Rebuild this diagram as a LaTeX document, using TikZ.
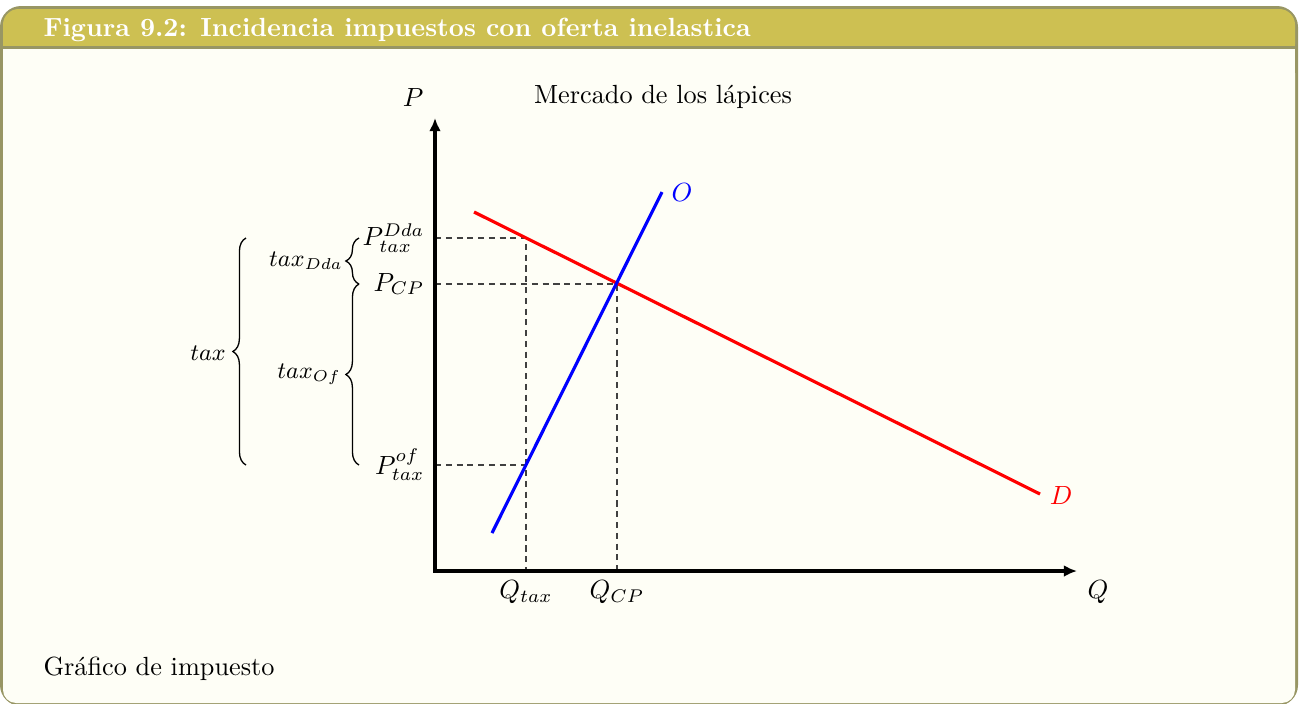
\documentclass[tikz,border=0pt]{standalone}
\usetikzlibrary{arrows.meta,decorations.pathreplacing}
\definecolor{frameC}{RGB}{152,150,100}
\definecolor{titleC}{RGB}{205,192,82}
\definecolor{bgC}{RGB}{254,254,246}
\tikzset{
  axis/.style={line width=1.2pt,{Latex[length=5pt,width=4.5pt]}-{Latex[length=5pt,width=4.5pt]}},
  guide/.style={dash pattern=on 2.3pt off 1.8pt,line width=0.4pt,black!75},
  curveS/.style={blue,line width=1.2pt},
  curveD/.style={red,line width=1.2pt},
  bracestyle/.style={decorate,decoration={brace,amplitude=5pt},line width=0.5pt},
  lbl/.style={inner sep=1pt},
  plbl/.style={inner sep=0pt,anchor=east}
}
\begin{document}
\begin{tikzpicture}[x=0.3807pt,y=-0.3807pt]
\useasboundingbox (0,0) rectangle (1299,703);
% frame
\fill[frameC,rounded corners=8] (0,6) rectangle (1298,706);
\fill[titleC,rounded corners=6] (3,9) rectangle (1295,60);
\fill[frameC] (3,46) rectangle (1295,49);
\fill[bgC] (3,49) rectangle (1295,690);
\fill[bgC,rounded corners=5] (3,60) rectangle (1295,703);
\node[anchor=base west,text=white,font=\bfseries,inner sep=0] (title) at (43,36) {Figura 9.2: Incidencia impuestos con oferta inelastica};
\node[anchor=base west,inner sep=0] (caption) at (43,675) {Gr\'afico de impuesto};
% coordinates
\coordinate (O) at (435,571);
\coordinate (ytip) at (435,118);
\coordinate (xtip) at (1077,571);
\coordinate (s1) at (492,533);
\coordinate (s2) at (662,192);
\coordinate (d1) at (474,212);
\coordinate (d2) at (1040,494);
\coordinate (A) at (526,238);
\coordinate (E) at (617,284);
\coordinate (B) at (526,465);
\coordinate (yA) at (435,238);
\coordinate (yE) at (435,284);
\coordinate (yB) at (435,465);
\coordinate (xA) at (526,571);
\coordinate (xE) at (617,571);
% guides
\draw[guide] (yA) -- (A) -- (xA);
\draw[guide] (yE) -- (E) -- (xE);
\draw[guide] (yB) -- (B);
% curves
\draw[curveD] (d1) -- (d2);
\draw[curveS] (s1) -- (s2);
% axes
\draw[axis] (ytip) -- (O) -- (xtip);
% labels
\node[lbl] (Plab) at (413,98) {$P$};
\node[lbl] (Qlab) at (1098,592) {$Q$};
\node[lbl] (market) at (663,97) {Mercado de los l\'apices};
\node[lbl,blue] (Olab) at (682,193) {$O$};
\node[lbl,red] (Dlab) at (1061,496) {$D$};
\node[plbl] (PD) at (425,238) {$P^{Dda}_{tax}$};
\node[plbl] (PCP) at (425,284) {$P_{CP}$};
\node[plbl] (Pof) at (425,465) {$P^{of}_{tax}$};
\node[lbl] (Qtax) at (526,592) {$Q_{tax}$};
\node[lbl] (QCP) at (617,592) {$Q_{CP}$};
% braces
\coordinate (b1a) at (359,284);
\coordinate (b1b) at (359,238);
\coordinate (b2a) at (359,465);
\coordinate (b2b) at (359,284);
\coordinate (b3a) at (246,465);
\coordinate (b3b) at (246,238);
\draw[bracestyle] (b1a) -- (b1b);
\draw[bracestyle] (b2a) -- (b2b);
\draw[bracestyle] (b3a) -- (b3b);
\node[lbl,font=\small] (tDda) at (306,261) {$tax_{Dda}$};
\node[lbl,font=\small] (tOf) at (309,374) {$tax_{Of}$};
\node[lbl,font=\small] (ttax) at (208,353) {$tax$};
\end{tikzpicture}
\end{document}
